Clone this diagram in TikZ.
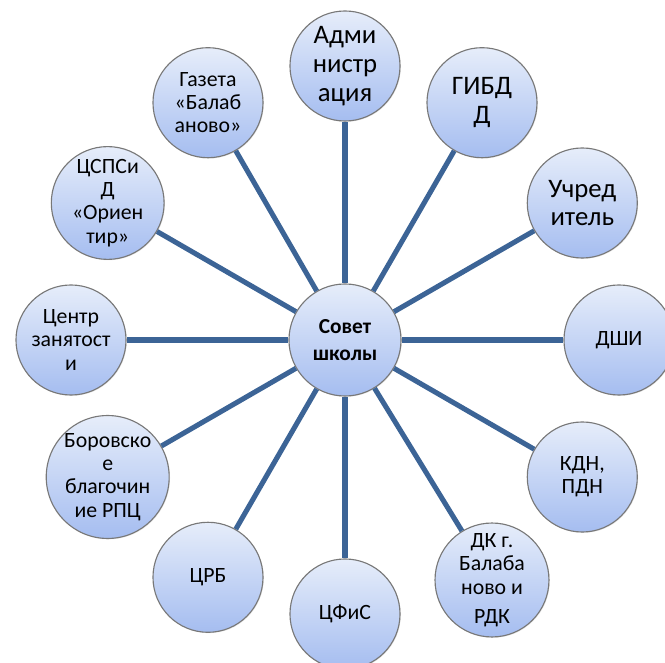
\documentclass[tikz,border=0pt]{standalone}
\usepackage{fontspec}
\setmainfont{Carlito}
\usetikzlibrary{shadows}

\definecolor{linkblue}{RGB}{60,100,150}
\definecolor{ballTop}{RGB}{230,237,250}
\definecolor{ballBot}{RGB}{165,189,240}
\definecolor{ballRim}{RGB}{120,120,120}

\tikzset{
  partner/.style={circle, draw=ballRim, line width=0.8pt,
    top color=ballTop, bottom color=ballBot,
    minimum size=2.75cm, inner sep=0pt, align=center,
    font={\fontsize{15.5}{16.6}\selectfont},
    drop shadow={opacity=0.2, shadow xshift=0.6pt, shadow yshift=-0.6pt}},
  bigtext/.style={font={\fontsize{19}{20.5}\selectfont}},
  link/.style={draw=linkblue, line width=3.6pt}
}

\begin{document}
\begin{tikzpicture}[x=0.025cm, y=0.025cm]
    \useasboundingbox (-345,-323) rectangle (320,340);

    % Centre
    \node[partner, minimum size=2.8cm, font={\bfseries\fontsize{15.2}{19.4}\selectfont}] (sovet) at (0,0) {Совет\\школы};

    % Partners, clockwise from the top
    \node[partner, bigtext] (admin) at (90:274) {Адми\\нистр\\ация};
    \node[partner, bigtext] (gibdd) at (60:274) {ГИБД\\Д};
    \node[partner, bigtext] (uchred) at (30:274) {Учред\\итель};
    \node[partner] (dshi) at (0:274) {ДШИ};
    \node[partner] (kdn) at (-30:274) {КДН,\\ПДН};
    \node[partner] (dk) at (147,-240) {ДК г.\\Балаба\\ново и\\[4pt]РДК};
    \node[partner] (cfis) at (-90:274) {ЦФиС};
    \node[partner] (crb) at (-120:274) {ЦРБ};
    \node[partner] (borov) at (-150:274) {Боровско\\е\\благочин\\ие РПЦ};
    \node[partner] (czan) at (180:274) {Центр\\занятост\\и};
    \node[partner] (cspsid) at (150:274) {ЦСПСи\\Д\\«Ориен\\тир»};
    \node[partner] (gazeta) at (120:274) {Газета\\«Балаб\\аново»};

    % Links
    \foreach \p in {admin,gibdd,uchred,dshi,kdn,dk,cfis,crb,borov,czan,cspsid,gazeta}
        \draw[link] (sovet) -- (\p);
\end{tikzpicture}
\end{document}
